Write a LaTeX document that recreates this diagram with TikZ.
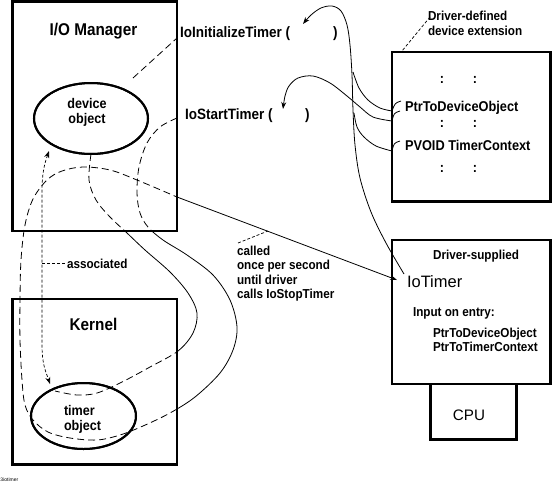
\documentclass[tikz,border=0pt]{standalone}
\usepackage{fontspec}
\setmainfont{Liberation Sans}
\newfontfamily\labf[FakeStretch=0.9]{Liberation Sans}
\usetikzlibrary{arrows.meta,shapes.geometric}
\begin{document}
\begin{tikzpicture}[x=1pt,y=-1pt,
  every node/.style={inner sep=0pt, outer sep=0pt},
  frame/.style={draw, line width=2.5pt, rectangle},
  oval/.style={draw, line width=2pt, ellipse},
  conn/.style={line width=0.8pt},
  dsh/.style={line width=0.8pt, dash pattern=on 7pt off 4pt},
  fine/.style={line width=0.7pt, dash pattern=on 3pt off 2pt},
  tipS/.style={-{Stealth[length=7pt,width=5pt]}},
  lbl/.style={anchor=base west, font={\labf\bfseries\fontsize{13}{14.5}\selectfont}},
  big/.style={anchor=base, font={\labf\bfseries\fontsize{17}{19}\selectfont}},
  fn/.style={anchor=base west, font={\labf\bfseries\fontsize{15}{17}\selectfont}},
  ext/.style={anchor=base west, font={\labf\bfseries\fontsize{14.2}{16}\selectfont}},
  obj/.style={font={\labf\bfseries\fontsize{14}{16}\selectfont}},
  colon/.style={anchor=base, font={\labf\bfseries\fontsize{14}{16}\selectfont}},
  plain/.style={font={\fontsize{#1}{#1}\selectfont}}
]
\useasboundingbox (0,0) rectangle (553,485);

% ---------- named points for connectors ----------
\coordinate (startSrc) at (177,118);
\coordinate (loopExit) at (177,197);
\coordinate (ioTimerTip) at (397,280);
\coordinate (initArrow) at (303,24);
\coordinate (startArrow) at (283,109);
\coordinate (ioTimerTop) at (404,274);
\coordinate (ptrA) at (392,111);
\coordinate (ptrB) at (392,121);
\coordinate (ctx) at (392,151);
\coordinate (hookA) at (401,101);
\coordinate (hookB) at (400,111);
\coordinate (hookC) at (400,141);
\coordinate (joinA) at (353,72);
\coordinate (joinC) at (354,113);
\coordinate (devTop) at (133,78);
\coordinate (ioEdgeInit) at (177,38);
\coordinate (timTop) at (55,391);
\coordinate (assocTop) at (49,151);
\coordinate (assocBot) at (50,384);
\coordinate (assocMid) at (42,263);
\coordinate (calledPt) at (268,231);
\coordinate (calledLbl) at (238,243);
\coordinate (extCorner) at (402,51);
\coordinate (extLbl) at (430,17);

% ---------- ellipses (nodes, drawn later too) ----------
\node[oval, minimum width=114pt, minimum height=71pt] (devobj) at (91,118.5) {};
\node[oval, minimum width=105pt, minimum height=66pt] (timobj) at (83.5,416) {};

% ---------- curves: solid outside the left boxes ----------
\begin{scope}
\clip (0,0) -- (553,0) -- (553,485) -- (0,485) -- cycle
      (12.5,1.5) -- (12.5,231) -- (0,231) -- (0,299) -- (12.5,299) -- (12.5,464.5)
      -- (177,464.5) -- (177,299) -- (40,299) -- (40,231) -- (177,231) -- (177,1.5) -- cycle;
\draw[conn, tipS] plot[smooth, tension=0.55] coordinates {
  (startSrc) (160,127) (147,143) (139,167) (137,193) (140,213) (148,227) (163,240)
  (187,255) (213,275) (230,300) (237,327) (233,350) (220,373) (195,397) (170,413)
  (143,426) (120,435) (97,440) (70,438) (48,432) (33,420) (25,405) (22,380) (20,340)
  (20,300) (21,260) (25,225) (33,199) (47,180) (62,171) (83,167) (110,170) (137,180)
  (loopExit)} -- (ioTimerTip);
\draw[conn] plot[smooth, tension=0.55] coordinates {
  (devobj.south) (89,180) (96,200) (110,217) (127,233) (145,250) (170,272) (188,293)
  (197,313) (193,333) (178,351) (150,367) (122,382) (97,393) (77,395) (timTop)};
\end{scope}

% ---------- curves: dashed inside the left boxes ----------
\begin{scope}
\clip (12.5,1.5) -- (177,1.5) -- (177,231) -- (40,231) -- (40,299) -- (177,299)
      -- (177,464.5) -- (12.5,464.5) -- (12.5,299) -- (0,299) -- (0,231) -- (12.5,231) -- cycle;
\draw[dsh] plot[smooth, tension=0.55] coordinates {
  (startSrc) (160,127) (147,143) (139,167) (137,193) (140,213) (148,227) (163,240)
  (187,255) (213,275) (230,300) (237,327) (233,350) (220,373) (195,397) (170,413)
  (143,426) (120,435) (97,440) (70,438) (48,432) (33,420) (25,405) (22,380) (20,340)
  (20,300) (21,260) (25,225) (33,199) (47,180) (62,171) (83,167) (110,170) (137,180)
  (loopExit)};
\draw[dsh] plot[smooth, tension=0.55] coordinates {
  (devobj.south) (89,180) (96,200) (110,217) (127,233) (145,250) (170,272) (188,293)
  (197,313) (193,333) (178,351) (150,367) (122,382) (97,393) (77,395) (timTop)};
\end{scope}

\draw[dsh] (devTop) -- (ioEdgeInit);

% ---------- bundle of argument curves ----------
\draw[conn, tipS] plot[smooth, tension=0.55] coordinates {
  (ioTimerTop) (386,243) (371,212) (360,178) (355,145) (353,110) (352,75) (350,45)
  (347,25) (341,11) (332,6) (321,8) (311,15) (initArrow)};
\draw[conn] plot[smooth, tension=0.55] coordinates {
  (ptrA) (380,108) (368,100) (359,88) (joinA)};
\draw[conn, tipS] plot[smooth, tension=0.55] coordinates {
  (ptrB) (373,117) (360,107) (347,96) (330,83) (313,76) (298,78) (289,86) (285,96) (startArrow)};
\draw[conn] plot[smooth, tension=0.55] coordinates {
  (ctx) (376,146) (364,137) (357,127) (joinC)};
\draw[conn] (hookA) .. controls (395,103) .. (ptrA);
\draw[conn] (hookB) .. controls (394,113) .. (ptrB);
\draw[conn] (hookC) .. controls (394,143) .. (ctx);

% ---------- boxes ----------
\node[frame, minimum width=164.5pt, minimum height=229.5pt] (io) at (94.75,116.25) {};
\node[frame, minimum width=164.5pt, minimum height=165.5pt] (kern) at (94.75,381.75) {};
\node[frame, minimum width=158.5pt, minimum height=149.5pt] (ext) at (471.25,126.75) {};
\node[frame, minimum width=158.5pt, minimum height=144pt] (drv) at (471.25,312) {};
\node[frame, minimum width=86pt, minimum height=55.5pt] (cpu) at (473.5,411.75) {};
\node[oval, minimum width=114pt, minimum height=71pt] at (devobj) {};
\node[oval, minimum width=105pt, minimum height=66pt] at (timobj) {};

% ---------- texts ----------
\node[big] (iom) at (93.5,35) {I/O Manager};
\node[big] (kt) at (93.5,330) {Kernel};
\node[obj, anchor=base] (dv1) at (87,108) {device};
\node[obj, anchor=base] (dv2) at (87,123) {object};
\node[obj, anchor=base west] (tm1) at (64,415) {timer};
\node[obj, anchor=base west] (tm2) at (64,430) {object};

\node[fn] (init) at (180,37) {IoInitializeTimer (};
\node[fn] (initc) at (333,37) {)};
\node[fn] (start) at (185,119) {IoStartTimer (};
\node[fn] (startc) at (305,119) {)};

\node[lbl] (dd1) at (428,20) {Driver-defined};
\node[lbl] (dd2) at (428,35) {device extension};
\node[colon] (c11) at (442,83) {:};
\node[colon] (c12) at (475,83) {:};
\node[ext] (ptr) at (405,111) {PtrToDeviceObject};
\node[colon] (c21) at (442,127) {:};
\node[colon] (c22) at (475,127) {:};
\node[ext] (pv) at (405,150) {PVOID TimerContext};
\node[colon] (c31) at (442,172) {:};
\node[colon] (c32) at (475,172) {:};

\node[lbl, anchor=base] (ds) at (476,259) {Driver-supplied};
\node[anchor=base west, plain=16.5] (iot) at (407,287) {IoTimer};
\node[lbl] (ine) at (413,316) {Input on entry:};
\node[lbl] (in1) at (433,337) {PtrToDeviceObject};
\node[lbl] (in2) at (433,351) {PtrToTimerContext};
\node[anchor=base, plain=15.2] (cput) at (469,420) {CPU};

\node[lbl] (cl1) at (237,255) {called};
\node[lbl] (cl2) at (237,269.5) {once per second};
\node[lbl] (cl3) at (237,284) {until driver};
\node[lbl] (cl4) at (237,298.5) {calls IoStopTimer};
\draw[fine] (calledLbl) -- (calledPt);
\draw[fine] (extLbl) -- (extCorner);

\node[lbl] (assoc) at (67,268) {associated};
\draw[fine, {Stealth[length=7pt,width=5pt]}-{Stealth[length=7pt,width=5pt]}]
  (assocTop) .. controls (44,165) and (42,175) .. (42,192) -- (42,345)
  .. controls (42,365) and (46,372) .. (assocBot);
\draw[fine] (assocMid) -- (assoc.west |- assocMid);

\node[anchor=base west, plain=5] (fig) at (0.5,481) {3iotimer};
\end{tikzpicture}
\end{document}
